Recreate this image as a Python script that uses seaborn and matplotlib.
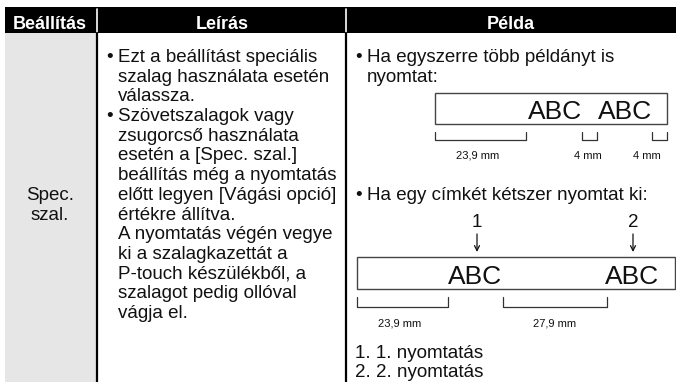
import matplotlib
matplotlib.use("Agg")
import matplotlib.pyplot as plt
from matplotlib.patches import Rectangle
import seaborn as sns

# table texts
headers = ["Beállítás", "Leírás", "Példa"]
setting = ["Spec.", "szal."]
desc_lines = [
    ("•", "Ezt a beállítást speciális"),
    ("", "szalag használata esetén"),
    ("", "válassza."),
    ("•", "Szövetszalagok vagy"),
    ("", "zsugorcső használata"),
    ("", "esetén a [Spec. szal.]"),
    ("", "beállítás még a nyomtatás"),
    ("", "előtt legyen [Vágási opció]"),
    ("", "értékre állítva."),
    ("", "A nyomtatás végén vegye"),
    ("", "ki a szalagkazettát a"),
    ("", "P-touch készülékből, a"),
    ("", "szalagot pedig ollóval"),
    ("", "vágja el."),
]
example1 = ["Ha egyszerre több példányt is", "nyomtat:"]
example2 = "Ha egy címkét kétszer nyomtat ki:"
label_text = "ABC"
gaps1 = ["23,9 mm", "4 mm", "4 mm"]
gaps2 = ["23,9 mm", "27,9 mm"]
marks = ["1", "2"]
legend = ["1. 1. nyomtatás", "2. 2. nyomtatás"]

sns.set_theme(style="white")
plt.rcParams["font.family"] = ["Liberation Sans", "DejaVu Sans"]

fig = plt.figure(figsize=(6.76, 3.82), dpi=100)
ax = fig.add_axes([0, 0, 1, 1])
ax.set_xlim(0, 676)
ax.set_ylim(382, 0)
ax.axis("off")

BODY = 13.5
ink = "#111111"


def row(i):
    return 62 + 19.7 * i


# header band and grey first column
ax.add_patch(Rectangle((5, 7), 671, 26, color="black", lw=0))
ax.add_patch(Rectangle((5, 33), 91, 349, color="#e6e6e6", lw=0))
for x in (96.5, 346):
    ax.plot([x, x], [9, 33], color="white", lw=1.2)
    ax.plot([x, x], [33, 382], color="black", lw=1.6)

for txt, cx in zip(headers, [50, 222, 511]):
    ax.text(cx, 29, txt, color="white", fontsize=13, fontweight="bold",
            ha="center", va="baseline")

# column 1
for i, txt in enumerate(setting):
    ax.text(50, row(7 + i), txt, fontsize=BODY, color=ink,
            ha="center", va="baseline")

# column 2
for i, (b, txt) in enumerate(desc_lines):
    if b:
        ax.text(106, row(i), b, fontsize=BODY, color=ink, va="baseline")
    ax.text(118, row(i), txt, fontsize=BODY, color=ink, va="baseline")

# column 3
ax.text(355, row(0), "•", fontsize=BODY, color=ink, va="baseline")
for i, txt in enumerate(example1):
    ax.text(367, row(i), txt, fontsize=BODY, color=ink, va="baseline")


def bracket(x0, x1, top, bottom):
    ax.plot([x0, x0, x1, x1], [top, bottom, bottom, top],
            color="#333333", lw=0.9)


# first tape
ax.add_patch(Rectangle((435, 93), 232, 31, fill=False, ec="#444444", lw=1.0))
for x_end in (582, 652):
    ax.text(x_end, 119, label_text, fontsize=19, color=ink,
            ha="right", va="baseline")
for (x0, x1), cx, txt in zip([(435, 526), (582, 597), (652, 667)],
                             [478, 588, 647], gaps1):
    bracket(x0, x1, 132, 140)
    ax.text(cx, 159, txt, fontsize=8, color=ink, ha="center", va="baseline")

# second tape
ax.text(355, row(7), "•", fontsize=BODY, color=ink, va="baseline")
ax.text(367, row(7), example2, fontsize=BODY, color=ink, va="baseline")
for cx, m in zip([477, 633], marks):
    ax.text(cx, 227, m, fontsize=BODY, color=ink, ha="center", va="baseline")
    ax.annotate("", xy=(cx, 252), xytext=(cx, 234),
                arrowprops=dict(arrowstyle="->", color=ink, lw=0.9,
                                mutation_scale=9, shrinkA=0, shrinkB=0))

ax.add_patch(Rectangle((357, 257), 318, 32, fill=False, ec="#444444", lw=1.0))
for x_start in (448, 605):
    ax.text(x_start, 284, label_text, fontsize=19, color=ink,
            ha="left", va="baseline")
for (x0, x1), cx, txt in zip([(357, 448), (503, 607)], [400, 555], gaps2):
    bracket(x0, x1, 297, 307)
    ax.text(cx, 327, txt, fontsize=8, color=ink, ha="center", va="baseline")

for i, txt in enumerate(legend):
    ax.text(355, 358 + 19 * i, txt, fontsize=BODY, color=ink, va="baseline")

fig.savefig("out.png", dpi=100)
